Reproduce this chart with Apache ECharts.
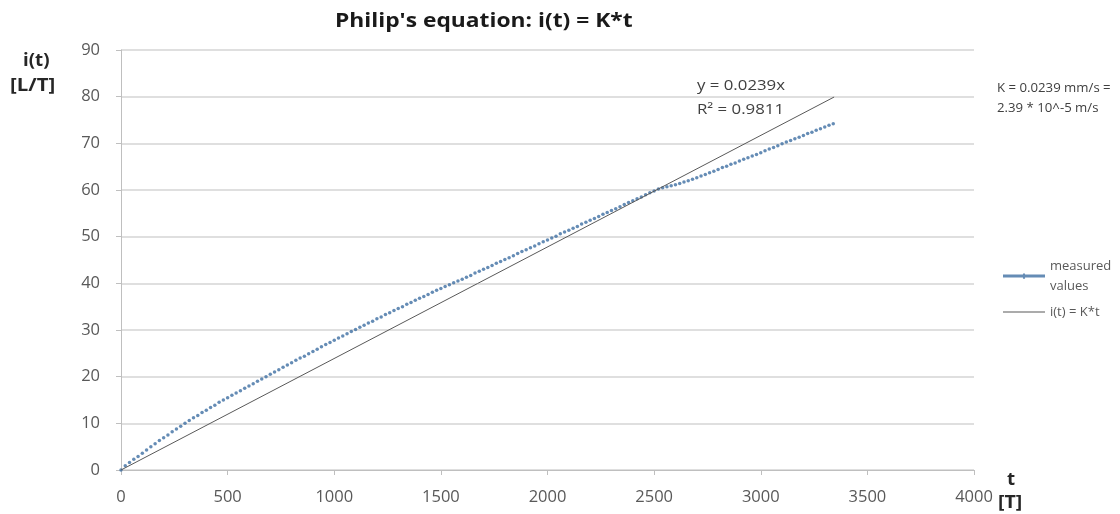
<!DOCTYPE html>
<html>
<head>
<meta charset="utf-8">
<script src="https://cdn.jsdelivr.net/npm/echarts@6/dist/echarts.min.js"></script>
<style>
  html, body { margin: 0; padding: 0; background: #fff; }
  #chart { width: 1120px; height: 514px; }
</style>
</head>
<body>
<div id="chart"></div>
<script>
  // ==== data ====
  const timeSteps = [
    0, 20, 40, 60, 80, 100, 120, 140, 160, 180, 200, 220, 240, 260, 280, 300,
    320, 340, 360, 380, 400, 420, 440, 460, 480, 500, 520, 540, 560, 580, 600,
    620, 640, 660, 680, 700, 720, 740, 760, 780, 800, 820, 840, 860, 880, 900,
    920, 940, 960, 980, 1000, 1020, 1040, 1060, 1080, 1100, 1120, 1140, 1160, 1180, 1200,
    1220, 1240, 1260, 1280, 1300, 1320, 1340, 1360, 1380, 1400, 1420, 1440, 1460, 1480, 1500,
    1520, 1540, 1560, 1580, 1600, 1620, 1640, 1660, 1680, 1700, 1720, 1740, 1760, 1780, 1800,
    1820, 1840, 1860, 1880, 1900, 1920, 1940, 1960, 1980, 2000, 2020, 2040, 2060, 2080, 2100,
    2120, 2140, 2160, 2180, 2200, 2220, 2240, 2260, 2280, 2300, 2320, 2340, 2360, 2380, 2400,
    2420, 2440, 2460, 2480, 2500, 2520, 2540, 2560, 2580, 2600, 2620, 2640, 2660, 2680, 2700,
    2720, 2740, 2760, 2780, 2800, 2820, 2840, 2860, 2880, 2900, 2920, 2940, 2960, 2980, 3000,
    3020, 3040, 3060, 3080, 3100, 3120, 3140, 3160, 3180, 3200, 3220, 3240, 3260, 3280, 3300,
    3320, 3340
  ]
  const measuredValues = [
    0, 0.9, 1.6, 2.3, 2.9, 3.6, 4.3, 5.0, 5.6, 6.3, 6.9, 7.5, 8.2, 8.8, 9.4, 10.0,
    10.6, 11.2, 11.7, 12.3, 12.8, 13.4, 13.9, 14.5, 15.0, 15.5, 16.0, 16.5, 17.0, 17.5, 18.0,
    18.5, 19.0, 19.5, 20.0, 20.5, 21.0, 21.5, 22.0, 22.5, 23.0, 23.5, 24.0, 24.4, 24.9, 25.4,
    25.9, 26.4, 26.9, 27.3, 27.8, 28.3, 28.7, 29.2, 29.7, 30.1, 30.6, 31.0, 31.5, 31.9, 32.4,
    32.8, 33.3, 33.7, 34.2, 34.6, 35.0, 35.5, 35.9, 36.4, 36.8, 37.2, 37.6, 38.1, 38.5, 38.9,
    39.3, 39.7, 40.1, 40.5, 40.9, 41.3, 41.7, 42.2, 42.6, 43.0, 43.4, 43.8, 44.3, 44.7, 45.1,
    45.5, 45.9, 46.4, 46.8, 47.2, 47.6, 48.0, 48.5, 48.9, 49.3, 49.7, 50.1, 50.6, 51.0, 51.4,
    51.8, 52.2, 52.7, 53.1, 53.5, 53.9, 54.3, 54.8, 55.2, 55.6, 56.0, 56.4, 56.9, 57.3, 57.7,
    58.1, 58.5, 59.0, 59.4, 59.8, 60.2, 60.5, 60.7, 60.9, 61.1, 61.4, 61.7, 62.0, 62.3, 62.6,
    63.0, 63.3, 63.7, 64.0, 64.4, 64.8, 65.1, 65.5, 65.8, 66.2, 66.6, 66.9, 67.3, 67.6, 68.0,
    68.4, 68.8, 69.1, 69.5, 69.9, 70.3, 70.6, 71.0, 71.3, 71.7, 72.1, 72.4, 72.8, 73.1, 73.5,
    73.9, 74.2
  ]
  // linear trendline through the origin, i(t) = K*t
  const K = 0.0239
  const trendTimes = [0, 3344]

  const xTicks = { min: 0, max: 4000, interval: 500 }
  const yTicks = { min: 0, max: 90, interval: 10 }

  // ==== chart ====
  const chartInstance = echarts.init(document.getElementById('chart'))

  const font = '"Open Sans", Lato, sans-serif'
  const labelColor = '#595959'
  const axisColor = '#bfbfbf'
  const blue = '#3f6fa3'

  // the source picture is a little stretched sideways, so texts get a scaleX
  const stretchedText = (text, x, y, font, scaleX, extra = {}) => ({
    type: 'text',
    x,
    y,
    scaleX,
    style: { text, font, fill: '#404040', verticalAlign: 'top', ...extra }
  })

  chartInstance.setOption({
    animation: false,
    grid: { left: 121, right: 146, top: 50, bottom: 44 },
    xAxis: {
      type: 'value',
      min: xTicks.min,
      max: xTicks.max,
      interval: xTicks.interval,
      axisLine: { show: true, lineStyle: { color: axisColor, width: 1 } },
      axisTick: { show: true, length: 5, lineStyle: { color: axisColor } },
      splitLine: { show: false },
      axisLabel: {
        color: labelColor,
        fontFamily: font,
        fontSize: 16.5,
        margin: 19,
        formatter: (v) => String(v)
      }
    },
    yAxis: {
      type: 'value',
      min: yTicks.min,
      max: yTicks.max,
      interval: yTicks.interval,
      axisLine: { show: true, lineStyle: { color: axisColor, width: 1 } },
      axisTick: { show: true, length: 5, lineStyle: { color: axisColor } },
      splitLine: { show: true, lineStyle: { color: '#d4d4d4', width: 1.5 } },
      axisLabel: { color: labelColor, fontFamily: font, fontSize: 16.5, margin: 21 }
    },
    legend: {
      orient: 'vertical',
      left: 998,
      top: 251,
      itemGap: 6,
      itemWidth: 42,
      itemHeight: 10,
      textStyle: { fontFamily: font, fontSize: 13, color: labelColor, lineHeight: 20 },
      data: [
        {
          name: 'measured\nvalues',
          icon: 'path://M0,3.5 L19,3.5 L19,2.5 L21,2.5 L21,3.5 L40,3.5 L40,6.5 L21,6.5 L21,7.5 L19,7.5 L19,6.5 L0,6.5 Z',
          itemStyle: { color: blue }
        },
        {
          name: 'i(t) = K*t',
          icon: 'path://M0,4.5 L40,4.5 L40,5.5 L0,5.5 Z',
          itemStyle: { color: '#595959' }
        }
      ]
    },
    series: [
      {
        name: 'measured\nvalues',
        type: 'scatter',
        symbol: 'circle',
        symbolSize: 3.5,
        itemStyle: { color: blue },
        data: timeSteps.map((t, i) => [t, measuredValues[i]])
      },
      {
        name: 'i(t) = K*t',
        type: 'line',
        showSymbol: false,
        symbol: 'none',
        lineStyle: { color: '#595959', width: 1 },
        data: trendTimes.map((t) => [t, K * t])
      }
    ],
    graphic: [
      stretchedText("Philip's equation: i(t) = K*t", 335, 12, 'bold 19px ' + font, 1.2, { fill: '#1a1a1a' }),
      stretchedText('i(t)', 23, 53, 'bold 17px ' + font, 1.1, { fill: '#262626' }),
      stretchedText('[L/T]', 10, 78, 'bold 17px ' + font, 1.2, { fill: '#262626' }),
      stretchedText('t', 1007, 472, 'bold 17px ' + font, 1.1, { fill: '#262626' }),
      stretchedText('[T]', 998, 495, 'bold 17px ' + font, 1.15, { fill: '#262626' }),
      stretchedText('y = 0.0239x\nR² = 0.9811', 697, 74, '14px ' + font, 1.2, { lineHeight: 24 }),
      stretchedText('K = 0.0239 mm/s =\n2.39 * 10^-5 m/s', 997, 79, '12px ' + font, 1.1, { lineHeight: 20 })
    ]
  })

  window.addEventListener('resize', () => chartInstance.resize())
</script>
</body>
</html>
